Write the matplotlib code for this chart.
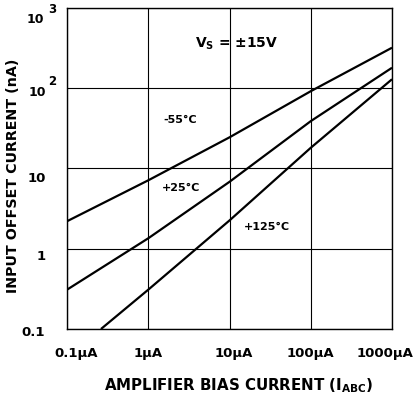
import matplotlib
matplotlib.use("Agg")
import matplotlib.pyplot as plt
from matplotlib.transforms import ScaledTranslation

# data
x_m55 = [0.1, 1, 10, 100, 1000]
y_m55 = [2.2, 7.1, 24.3, 91, 316]
x_p25 = [0.1, 1, 10, 100, 1000]
y_p25 = [0.31, 1.35, 6.8, 38.6, 178]
x_p125 = [0.26, 1, 10, 100, 1000]
y_p125 = [0.1, 0.31, 2.25, 18, 128]

xticks = [0.1, 1, 10, 100, 1000]
xticklabels = ["0.1µA", "1µA", "10µA", "100µA", "1000µA"]
yticks = [0.1, 1, 10, 100, 1000]
ytick_base = ["0.1", "1", "10", "10", "10"]
ytick_sup = ["", "", "", "2", "3"]

plt.rcParams['font.family'] = ['DejaVu Sans']
plt.rcParams['font.weight'] = 'bold'
plt.rcParams['mathtext.fontset'] = 'custom'
plt.rcParams['mathtext.rm'] = 'DejaVu Sans:bold'
plt.rcParams['mathtext.it'] = 'DejaVu Sans:bold'
plt.rcParams['mathtext.bf'] = 'DejaVu Sans:bold'

fig = plt.figure(figsize=(4.14, 4.0), dpi=100)
ax = fig.add_axes([67.3/414, 1-329/400, (392-67.3)/414, (329-7.5)/400])
ax.set_xscale('log')
ax.set_yscale('log')
ax.set_xlim(0.1, 1000)
ax.set_ylim(0.1, 1000)

ax.grid(True, which='major', color='black', lw=0.8)
ax.minorticks_off()
ax.set_axisbelow(True)

for xs, ys in [(x_m55, y_m55), (x_p25, y_p25), (x_p125, y_p125)]:
    ax.plot(xs, ys, color='black', lw=1.6, solid_capstyle='butt')

ax.set_xticks(xticks)
ax.set_xticklabels(xticklabels, fontsize=9.5, fontweight='bold')
ax.set_yticks(yticks)
ax.set_yticklabels([""] * len(yticks))
ax.tick_params(length=0)
ax.tick_params(axis='x', pad=13)
ax.minorticks_off()

xoff = [9, 0, 4, 0, -7]
for lab, dx in zip(ax.get_xticklabels(), xoff):
    lab.set_transform(lab.get_transform() + ScaledTranslation(dx/100, 0, fig.dpi_scale_trans))

# y tick labels: (right edge px offset from axis, baseline px below gridline, size)
ybase_dx = [-22, -22, -21, -21, -23]
ybase_dy = [6.5, 11, 14, 7.7, 15.4]
ybase_fs = [9.5, 9.5, 9.5, 9, 9]
ysup_dx = [0, 0, 0, -19, -19.5]
ysup_dy = [0, 0, 0, -3, 5.7]
ytr = ax.get_yaxis_transform()
for v, b, s, dx, dy, fs, sdx, sdy in zip(yticks, ytick_base, ytick_sup, ybase_dx, ybase_dy,
                                         ybase_fs, ysup_dx, ysup_dy):
    ax.text(0, v, b, transform=ytr + ScaledTranslation(dx/100, -dy/100, fig.dpi_scale_trans),
            ha='right', va='baseline', fontsize=fs, fontweight='bold', clip_on=False)
    if s:
        ax.text(0, v, s, transform=ytr + ScaledTranslation(sdx/100, -sdy/100, fig.dpi_scale_trans),
                ha='left', va='baseline', fontsize=8.5, fontweight='bold', clip_on=False)

for s in ax.spines.values():
    s.set_linewidth(1.0)

def px(xp, yp):
    return fig.transFigure.inverted().transform(fig.dpi_scale_trans.transform((xp/100, (400-yp)/100)))

fx, fy = px(238.5, 390)
fig.text(fx, fy, r"AMPLIFIER BIAS CURRENT (I$_{\mathrm{ABC}}$)", ha='center', va='baseline',
         fontsize=10.8, fontweight='bold')
fx, fy = px(13, 176)
fig.text(fx, fy, "INPUT OFFSET CURRENT (nA)", ha='center', va='center', rotation=90,
         fontsize=10.3, fontweight='bold')

for txt, (xp, yp), fs in [(r"V$_{\mathrm{S}}$ = ±15V", (237, 44), 10),
                          ("-55°C", (180, 120), 8),
                          ("+25°C", (181.5, 188), 8),
                          ("+125°C", (267, 227), 8)]:
    fx, fy = px(xp, yp)
    fig.text(fx, fy, txt, ha='center', va='center', fontsize=fs, fontweight='bold')

fig.savefig("out.png", dpi=100)
